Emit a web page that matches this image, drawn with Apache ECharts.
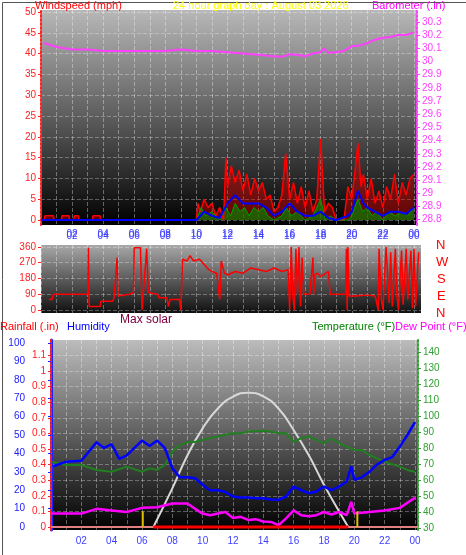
<!DOCTYPE html>
<html><head><meta charset="utf-8">
<script src="https://cdn.jsdelivr.net/npm/echarts@6/dist/echarts.min.js"></script>
<style>html,body{margin:0;padding:0;background:#fff}#c{width:466px;height:555px}</style>
</head><body><div id="c"></div>
<script>
// ---- data ----
const gustHours = [0,0.2,0.25,0.8,0.85,1.3,1.35,1.8,1.85,2.1,2.15,2.4,2.45,3.3,3.35,3.8,3.85,10,10.1,10.25,10.5,10.75,11,11.25,11.5,11.75,11.9,12,12.25,12.5,12.75,13,13.25,13.5,13.75,14,14.25,14.5,14.75,15,15.25,15.5,15.75,16,16.25,16.5,16.75,17,17.25,17.5,17.75,18,18.25,18.5,18.75,19,19.5,19.75,20,20.25,20.4,20.6,20.75,21,21.25,21.5,21.75,22,22.25,22.5,22.75,23,23.25,23.5,23.75,24];
const gustVals  = [0,0,1,1,0,0,1,1,0,0,1,1,0,0,1,1,0,0,4,2,5,3,4,1,3,0,15,8,13,9,12,7,11,6,10,7,9,5,6,2,3,6,16,5,9,4,8,3,7,2,5,19.5,2,4,3,0,0,8,5,13,18.5,8,11,5,10,4,7,3,8,5,11,4,9,6,10,11];
const avgHours = [0,10,10.5,11,11.5,12,12.5,13,13.5,14,14.5,15,15.5,16,16.5,17,17.5,18,18.5,19,19.75,20,20.4,20.75,21,21.5,22,22.5,23,23.5,24];
const avgVals  = [0,0,2,1,0.5,4,6,4,4,4,3,1,2,4,2,1,1,2,0.5,0,1,2,7,4,3,2,1,2,2,1.5,3];
const spdHours = [0,10,10.3,10.6,11,11.5,11.9,12.2,12.5,12.8,13.1,13.4,13.7,14,14.3,14.6,15,15.5,15.8,16.1,16.5,17,17.5,18,18.3,18.6,19,19.75,20,20.4,20.7,21,21.3,21.6,22,22.4,22.8,23.2,23.6,24];
const spdVals  = [0,0,3,1,2,0,3,1,4,2,3,1,3,2,3,1,0,1,3,1,2,0,1,5,0,1,0,0,1,5,2,3,1,2,0,2,1,2,1,3];
const baroHours = [0.2,1,2,3,4,5,6,7,8,9,10,11,12,13,14,15,15.5,16,16.5,17,17.5,18,18.2,18.5,19,19.5,20,20.5,21,21.5,22,22.5,23,23.5,24];
const baroVals  = [30.14,30.11,30.09,30.09,30.08,30.08,30.08,30.08,30.08,30.09,30.08,30.08,30.07,30.06,30.05,30.04,30.035,30.055,30.05,30.04,30.06,30.07,30.1,30.065,30.07,30.08,30.115,30.12,30.14,30.165,30.18,30.185,30.2,30.2,30.22];
const dirHours = [0.5,0.7,0.8,3.0,3.05,3.1,3.8,3.85,4.6,4.7,4.9,4.95,5.7,5.95,6.0,6.4,6.5,6.8,6.9,7.5,7.6,8.1,8.2,8.3,8.9,9.0,9.1,9.4,9.6,9.8,10.2,10.6,10.8,11.0,11.3,11.5,11.6,11.8,12,12.5,13,13.5,14,14.5,15,15.5,15.9,16.0,16.1,16.2,16.3,16.4,16.5,16.6,16.7,16.8,16.9,17.0,17.3,17.5,17.55,17.6,17.8,18.0,18.5,18.6,19.0,19.6,19.65,19.7,19.75,19.8,20.2,21,21.5,21.7,21.75,21.9,22.0,22.2,22.4,22.5,22.6,22.8,22.9,23.0,23.2,23.3,23.5,23.6,23.8,23.9,24.0,24.1,24.3];
const dirVals  = [60,60,90,90,355,20,20,50,50,70,300,80,90,100,355,355,0,350,100,90,70,70,20,60,60,0,290,280,310,280,290,250,230,220,210,60,280,210,200,220,210,240,230,220,240,220,230,0,360,80,0,350,90,360,20,300,90,80,90,300,90,200,210,190,220,90,90,90,350,0,360,80,80,85,80,0,350,60,0,360,40,330,20,350,80,0,340,30,350,60,340,10,350,20,330];
const humHours = [0.15,1,2,3,3.5,4,4.5,5,5.5,6,6.5,7,7.5,8,8.5,9,9.5,10,10.5,11,11.5,12,12.5,13,13.5,14,14.5,15,15.5,16,16.5,17,17.5,18,18.5,19,19.5,19.8,20,20.5,21,21.5,22,22.5,23,23.5,24];
const humVals  = [33,35.5,36,46,43,45,37,39,43,47,44,47,43,32,27,27,26.5,23,20,20,19,16.6,16,16,15.7,15.7,15,14.8,16.6,22,20,18.4,19.3,22,20,22,24.7,33,25.6,27,30,34,36.5,38,43.7,50,57];
const tempHours = [0,1,2,3,4,5,6,6.5,7,7.5,8,8.5,9,9.5,10,10.5,11,11.5,12,12.5,13,14,14.5,15,15.5,16,16.5,17,17.5,18,18.5,19,19.5,20,20.5,21,21.5,22,23,23.5,24];
const tempVals  = [71.6,69.5,69.5,66.4,65.3,68.5,65.3,67.4,66.4,69.5,78,82,84,84,85.3,86.4,87.4,88.5,89.5,89.5,90.6,91,90.6,89.5,89.5,84,86.4,87.4,85.3,83.2,86,83.2,81,79,79,75.8,73.7,71.6,68.5,66.4,65.3];
const dewHours = [0,1,2,3,4,5,6,7,8,9,9.5,10,10.5,11,11.5,12,12.5,13,13.5,14,14.5,15,15.5,16,16.5,17,17.5,18,18.5,19,19.5,19.8,20,21,22,23,24];
const dewVals  = [39,39,39,42,41,40,42.6,43,45.3,45.3,42,39,38,39,40,36.3,37,35,35.5,34,33.8,31.7,36,41,38,37.4,38,40,38.4,40,38,46.4,39,40,41,42.6,49];
const solarHours = [6.75,8,9,10,11,12,13,14,15,16,17,18,19,19.6];
const solarVals  = [0,21,39,53.6,64.4,70.8,73,71,64.4,52.7,39,23,8.5,0];
const rainHours = [6.75,19.6];
const rainVals = [0,0];
const sunMarks = [6.05,20.2];
const windTicks = [0,5,10,15,20,25,30,35,40,45,50];
const baroTicks = [28.8,28.9,29,29.1,29.2,29.3,29.4,29.5,29.6,29.7,29.8,29.9,30,30.1,30.2,30.3];
const dirTicks = [0,90,180,270,360];
const humTicks = [0,10,20,30,40,50,60,70,80,90,100];
const rainTicks = [0,0.1,0.2,0.3,0.4,0.5,0.6,0.7,0.8,0.9,1,1.1];
const tempTicks = [30,40,50,60,70,80,90,100,110,120,130,140];

const pairs=(h,v)=>h.map((x,i)=>[x,v[i]]);
const F='Liberation Sans, Arial, sans-serif';
const grad=(a,b)=>({type:'linear',x:0,y:0,x2:0,y2:1,colorStops:[{offset:0,color:a},{offset:1,color:b}]});
const split={show:true,lineStyle:{color:'rgba(255,255,255,0.35)',type:'dashed',width:1}};
const hourFmt=v=>(v%2===0&&v>0)?String(v%24).padStart(2,'0'):'';
const xa=(gi,max,pos)=>({type:'value',gridIndex:gi,min:0,max:max,interval:1,position:pos||'bottom',
  axisLine:{show:false},axisTick:{show:false},splitLine:split,
  axisLabel:{formatter:hourFmt,color:'#4040ff',fontSize:10,fontFamily:F,margin:6,showMaxLabel:false}});
const ya=(gi,min,max,ticks,color,pos,extra)=>Object.assign({type:'value',gridIndex:gi,min:min,max:max,position:pos,
  axisLine:{show:true,lineStyle:{color:color,type:'dotted',width:2}},
  axisTick:{show:true,customValues:ticks,length:3,lineStyle:{color:color}},
  axisLabel:{customValues:ticks,color:color,fontSize:10,fontFamily:F,margin:5},
  splitLine:{show:false}},extra||{});

const chart=echarts.init(document.getElementById('c'),null,{renderer:'canvas'});
const txt=(l,t,s,c,sz)=>({type:'text',left:l,top:t,style:{text:s,fill:c,font:(sz||11)+'px '+F}});
chart.setOption({
  animation:false,
  grid:[
    {left:41,top:10,width:376,height:215,show:true,borderWidth:0,backgroundColor:grad('#b8b8b8','#000')},
    {left:41,top:245,width:380,height:68,show:true,borderWidth:0,backgroundColor:grad('#a8a8a8','#101010')},
    {left:51,top:340,width:367,height:190,show:true,borderWidth:0,backgroundColor:grad('#bcbcbc','#000')}
  ],
  xAxis:[xa(0,24.2),xa(1,24.45,'top'),xa(2,24.2)],
  yAxis:[
    ya(0,-1.2,50.5,windTicks,'#ff2020','left',{splitLine:{show:true,customValues:windTicks,lineStyle:{color:'rgba(255,255,255,0.3)',type:'dashed'}}}),
    ya(0,28.76,30.39,baroTicks,'#ff40ff','right'),
    ya(1,-17,371,dirTicks,'#ff2020','left',{splitLine:{show:true,lineStyle:{color:'rgba(255,255,255,0.3)',type:'dashed'}},axisLine:{show:false}}),
    ya(2,-1.6,101.6,humTicks,'#2020ff','left',{offset:21,axisLine:{show:true,lineStyle:{color:'#2020ff',width:3}}}),
    ya(2,-0.019,1.199,rainTicks,'#ff2020','left',{splitLine:{show:true,customValues:rainTicks,lineStyle:{color:'rgba(255,255,255,0.3)',type:'dashed'}}}),
    ya(2,28.7,148,tempTicks,'#30a030','right')
  ],
  graphic:[
    {type:'rect',left:0,top:0,shape:{width:465,height:554},style:{fill:'none',stroke:'#555',lineWidth:1},silent:true},
    txt(35,0,'Windspeed (mph)','#ff0000'),
    txt(173,0,'24 hour graph day : August 03 2026','#ffff00'),
    txt(372,0,'Barometer (.in)','#ff00ff'),
    txt(436,239,'N','#ff0000',13),
    txt(436,256,'W','#ff0000',13),
    txt(437,273,'S','#ff0000',13),
    txt(437,290,'E','#ff0000',13),
    txt(436,307,'N','#ff0000',13),
    txt(120,314,'Max solar','#800040',12),
    txt(0,321,'Rainfall (.in)','#ff0000'),
    txt(67,321,'Humidity','#0000ff'),
    txt(312,321,'Temperature (°F)','#008000'),
    txt(395,321,'Dew Point (°F)','#ff00ff')
  ],
  series:[
    {type:'line',xAxisIndex:0,yAxisIndex:0,data:pairs(gustHours,gustVals),showSymbol:false,lineStyle:{color:'#ff0000',width:1.5},areaStyle:{color:'rgba(255,0,0,0.55)'}},
    {type:'line',xAxisIndex:0,yAxisIndex:0,data:pairs(spdHours,spdVals),showSymbol:false,lineStyle:{color:'#00a000',width:1},areaStyle:{color:'rgba(0,140,0,0.9)'}},
    {type:'line',xAxisIndex:0,yAxisIndex:0,data:pairs(avgHours,avgVals),showSymbol:false,lineStyle:{color:'#0000ff',width:2}},
    {type:'line',xAxisIndex:0,yAxisIndex:1,data:pairs(baroHours,baroVals),showSymbol:false,lineStyle:{color:'#ff40ff',width:2}},
    {type:'line',xAxisIndex:1,yAxisIndex:2,data:pairs(dirHours,dirVals),showSymbol:false,lineStyle:{color:'#ff0000',width:1.5}},
    {type:'line',xAxisIndex:2,yAxisIndex:3,data:pairs(solarHours,solarVals),showSymbol:false,smooth:true,lineStyle:{color:'#d8d8d8',width:2}},
    {type:'line',xAxisIndex:2,yAxisIndex:5,data:pairs(tempHours,tempVals),showSymbol:false,lineStyle:{color:'#208020',width:2}},
    {type:'line',xAxisIndex:2,yAxisIndex:3,data:pairs(humHours,humVals),showSymbol:false,lineStyle:{color:'#0000ff',width:2.5}},
    {type:'line',xAxisIndex:2,yAxisIndex:5,data:pairs(dewHours,dewVals),showSymbol:false,lineStyle:{color:'#ff00ff',width:2.5}},
    {type:'line',xAxisIndex:2,yAxisIndex:4,data:[[0,0],[24.2,0]],showSymbol:false,lineStyle:{color:'#e08080',width:2}},
    {type:'line',xAxisIndex:2,yAxisIndex:4,data:pairs(rainHours,rainVals),showSymbol:false,lineStyle:{color:'#ff0000',width:3}},
    {type:'line',xAxisIndex:2,yAxisIndex:4,data:[[sunMarks[0],0],[sunMarks[0],0.1]],showSymbol:false,lineStyle:{color:'#e0c000',width:2}},
    {type:'line',xAxisIndex:2,yAxisIndex:4,data:[[sunMarks[1],0],[sunMarks[1],0.1]],showSymbol:false,lineStyle:{color:'#e0c000',width:2}}
  ]
});
</script></body></html>
